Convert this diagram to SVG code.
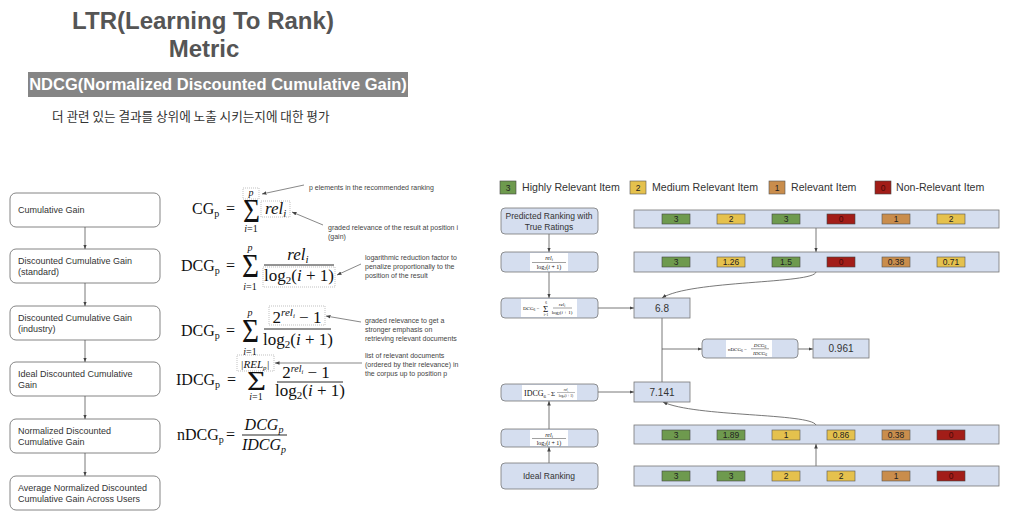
<svg xmlns="http://www.w3.org/2000/svg" width="1024" height="530" viewBox="0 0 1024 530">
<defs>
<marker id="ah" viewBox="0 0 10 10" refX="10" refY="5" markerWidth="4.5" markerHeight="4.5" markerUnits="userSpaceOnUse" orient="auto"><path d="M0,1 L10,5 L0,9 z" fill="#444"/></marker>
<style>
.sans{font-family:"Liberation Sans",Arial,sans-serif}
.lbox{fill:#fff;stroke:#666;stroke-width:0.8}
.lbl{font-family:"Liberation Sans",Arial,sans-serif;font-size:9px;fill:#333}
.m{font-family:"Liberation Serif","DejaVu Serif",serif;fill:#111}
.it{font-style:italic}
.dot{fill:none;stroke:#999;stroke-width:0.6;stroke-dasharray:1 1}
.ann{font-family:"Liberation Sans",Arial,sans-serif;font-size:7px;fill:#444}
.aline{stroke:#555;stroke-width:0.7;fill:none}
.bb{fill:#d5deef;stroke:#777;stroke-width:0.8}
.btxt{font-family:"Liberation Sans",Arial,sans-serif;font-size:8.5px;fill:#333;text-anchor:middle}
.num{font-family:"Liberation Sans",Arial,sans-serif;font-size:10px;fill:#333;text-anchor:middle}
.g{fill:#6e9a4e;stroke:#444;stroke-width:0.6}
.y{fill:#e5c14d;stroke:#555;stroke-width:0.6}
.t{fill:#c98d4c;stroke:#555;stroke-width:0.6}
.r{fill:#a21d18;stroke:#444;stroke-width:0.6}
.tt{font-family:"Liberation Sans",Arial,sans-serif;font-size:8.5px;fill:#222;text-anchor:middle}
.tr{fill:#4a0a08}
.leg{font-family:"Liberation Sans",Arial,sans-serif;font-size:10.6px;fill:#333}
.conn{stroke:#555;stroke-width:0.8;fill:none}
.wf{fill:#fff}
</style>
</defs>
<rect width="1024" height="530" fill="#fff"/>

<g id="title">
<text class="sans" x="203" y="29" font-size="24" font-weight="bold" fill="#555" text-anchor="middle">LTR(Learning  To Rank)</text>
<text class="sans" x="204" y="57" font-size="24" font-weight="bold" fill="#555" text-anchor="middle">Metric</text>
<rect x="28" y="72" width="380" height="25" fill="#858585"/>
<text class="sans" x="218" y="90" font-size="16.5" font-weight="bold" fill="#fff" text-anchor="middle">NDCG(Normalized Discounted Cumulative Gain)</text>
<text x="52" y="121" font-family="'Noto Sans CJK KR',sans-serif" font-size="12.6" fill="#333">더 관련 있는 결과를 상위에 노출 시키는지에 대한 평가</text>
</g>

<g id="left-flow">
<g id="n-cg"><rect class="lbox" x="10" y="193" width="150" height="34" rx="6"/><text class="lbl" x="18" y="213">Cumulative Gain</text></g>
<g id="n-dcg-std"><rect class="lbox" x="10" y="249" width="150" height="34" rx="6"/><text class="lbl" x="18" y="263.5">Discounted Cumulative Gain</text><text class="lbl" x="18" y="275">(standard)</text></g>
<g id="n-dcg-ind"><rect class="lbox" x="10" y="306" width="150" height="34" rx="6"/><text class="lbl" x="18" y="320.5">Discounted Cumulative Gain</text><text class="lbl" x="18" y="332">(industry)</text></g>
<g id="n-idcg"><rect class="lbox" x="10" y="362" width="150" height="34" rx="6"/><text class="lbl" x="18" y="376.5">Ideal Discounted Cumulative</text><text class="lbl" x="18" y="388">Gain</text></g>
<g id="n-ndcg"><rect class="lbox" x="10" y="419" width="150" height="34" rx="6"/><text class="lbl" x="18" y="433.5">Normalized Discounted</text><text class="lbl" x="18" y="445">Cumulative Gain</text></g>
<g id="n-avg"><rect class="lbox" x="10" y="476" width="150" height="34" rx="6"/><text class="lbl" x="18" y="490.5">Average Normalized Discounted</text><text class="lbl" x="18" y="502">Cumulative Gain Across Users</text></g>
</g>

<g id="formulas">
<text class="m" x="192" y="214" font-size="16">CG<tspan font-size="10" dy="3">p</tspan></text>
<text class="m" x="226" y="214" font-size="16">=</text>
<text class="m" x="243" y="222" font-size="34" textLength="17" lengthAdjust="spacingAndGlyphs">Σ</text>
<text class="m it" x="251" y="196" font-size="10" text-anchor="middle">p</text>
<text class="m" x="251" y="232" font-size="10" text-anchor="middle"><tspan class="it">i</tspan>=1</text>
<text class="m it" x="265" y="214" font-size="17">rel<tspan font-size="11" dy="3">i</tspan></text>
<rect class="dot" x="243" y="188" width="16" height="11"/>
<rect class="dot" x="261" y="201" width="29" height="16"/>
<text class="m" x="181" y="271" font-size="16">DCG<tspan font-size="10" dy="3">p</tspan></text>
<text class="m" x="226" y="271" font-size="16">=</text>
<text class="m" x="242" y="277" font-size="34" textLength="17" lengthAdjust="spacingAndGlyphs">Σ</text>
<text class="m it" x="250" y="251" font-size="10" text-anchor="middle">p</text>
<text class="m" x="250" y="290" font-size="10" text-anchor="middle"><tspan class="it">i</tspan>=1</text>
<text class="m it" x="298" y="260" font-size="17" text-anchor="middle">rel<tspan font-size="11" dy="3">i</tspan></text>
<line x1="264" y1="265" x2="334" y2="265" stroke="#111" stroke-width="0.9"/>
<text class="m" x="299" y="281" font-size="17" text-anchor="middle">log<tspan font-size="11" dy="3">2</tspan><tspan dy="-3">(</tspan><tspan class="it">i</tspan> + 1)</text>
<rect class="dot" x="263" y="267" width="72" height="20"/>
<text class="m" x="181" y="336" font-size="16">DCG<tspan font-size="10" dy="3">p</tspan></text>
<text class="m" x="226" y="336" font-size="16">=</text>
<text class="m" x="242" y="342" font-size="34" textLength="17" lengthAdjust="spacingAndGlyphs">Σ</text>
<text class="m it" x="250" y="316" font-size="10" text-anchor="middle">p</text>
<text class="m" x="250" y="355" font-size="10" text-anchor="middle"><tspan class="it">i</tspan>=1</text>
<text class="m" x="297" y="323" font-size="17" text-anchor="middle">2<tspan class="it" font-size="11" dy="-7">rel</tspan><tspan class="it" font-size="7" dy="2">i</tspan><tspan dy="5"> − 1</tspan></text>
<line x1="264" y1="329" x2="331" y2="329" stroke="#111" stroke-width="0.9"/>
<text class="m" x="298" y="345" font-size="17" text-anchor="middle">log<tspan font-size="11" dy="3">2</tspan><tspan dy="-3">(</tspan><tspan class="it">i</tspan> + 1)</text>
<rect class="dot" x="269" y="306" width="56" height="19"/>
<text class="m" x="176" y="385" font-size="16">IDCG<tspan font-size="10" dy="3">p</tspan></text>
<text class="m" x="227" y="385" font-size="16">=</text>
<text class="m" x="247" y="390" font-size="28" textLength="19" lengthAdjust="spacingAndGlyphs">Σ</text>
<text class="m it" x="255" y="367.5" font-size="11" text-anchor="middle">|REL<tspan font-size="7" dy="2">p</tspan><tspan dy="-2">|</tspan></text>
<text class="m" x="256" y="400" font-size="10" text-anchor="middle"><tspan class="it">i</tspan>=1</text>
<rect class="dot" x="237" y="355" width="37" height="16"/>
<text class="m" x="306" y="378" font-size="17" text-anchor="middle">2<tspan class="it" font-size="10" dy="-6">rel</tspan><tspan class="it" font-size="6.5" dy="1.5">i</tspan><tspan dy="4.5"> − 1</tspan></text>
<line x1="277" y1="382" x2="343" y2="382" stroke="#111" stroke-width="0.9"/>
<text class="m" x="310" y="396" font-size="17" text-anchor="middle">log<tspan font-size="11" dy="3">2</tspan><tspan dy="-3">(</tspan><tspan class="it">i</tspan> + 1)</text>
<text class="m" x="177" y="440" font-size="16">nDCG<tspan font-size="10" dy="3">p</tspan></text>
<text class="m" x="226" y="440" font-size="16">=</text>
<text class="m it" x="264" y="430" font-size="16" text-anchor="middle">DCG<tspan font-size="10" dy="3">p</tspan></text>
<line x1="242" y1="435" x2="287" y2="435" stroke="#111" stroke-width="0.9"/>
<text class="m it" x="264" y="450" font-size="16" text-anchor="middle">IDCG<tspan font-size="10" dy="3">p</tspan></text>
</g>

<g id="annotations">
<text class="ann" x="309" y="189.5">p elements in the recommended ranking</text>
<line class="aline" x1="304" y1="185" x2="262" y2="194" marker-end="url(#ah)"/>
<text class="ann" x="328" y="230">graded relevance of the result at position i</text>
<text class="ann" x="328" y="239">(gain)</text>
<line class="aline" x1="323" y1="225" x2="292" y2="212" marker-end="url(#ah)"/>
<text class="ann" x="365" y="259.5">logarithmic reduction factor to</text>
<text class="ann" x="365" y="268.5">penalize proportionally to the</text>
<text class="ann" x="365" y="277.5">position of the result</text>
<line class="aline" x1="361" y1="264" x2="337" y2="275" marker-end="url(#ah)"/>
<text class="ann" x="365" y="322.5">graded relevance to get a</text>
<text class="ann" x="365" y="331.5">stronger emphasis on</text>
<text class="ann" x="365" y="340.5">retrieving relevant documents</text>
<line class="aline" x1="361" y1="322" x2="326" y2="316" marker-end="url(#ah)"/>
<text class="ann" x="365" y="357.5">list of relevant documents</text>
<text class="ann" x="365" y="366.5">(ordered by their relevance) in</text>
<text class="ann" x="365" y="375.5">the corpus up to position p</text>
<line class="aline" x1="362" y1="363" x2="275" y2="363" marker-end="url(#ah)"/>
</g>

<g id="legend">
<rect class="g" x="500" y="181" width="16" height="13"/><text class="tt" x="508" y="191">3</text><text class="leg" x="522" y="191">Highly Relevant Item</text>
<rect class="y" x="630" y="181" width="16" height="13"/><text class="tt" x="638" y="191">2</text><text class="leg" x="652" y="191">Medium Relevant Item</text>
<rect class="t" x="769" y="181" width="16" height="13"/><text class="tt" x="777" y="191">1</text><text class="leg" x="791" y="191">Relevant Item</text>
<rect class="r" x="875" y="181" width="16" height="13"/><text class="tt tr" x="883" y="191">0</text><text class="leg" x="896" y="191">Non-Relevant Item</text>
</g>

<g id="connectors">
<line class="conn" x1="85" y1="227" x2="85" y2="249" marker-end="url(#ah)"/>
<line class="conn" x1="85" y1="283" x2="85" y2="306" marker-end="url(#ah)"/>
<line class="conn" x1="85" y1="340" x2="85" y2="362" marker-end="url(#ah)"/>
<line class="conn" x1="85" y1="396" x2="85" y2="419" marker-end="url(#ah)"/>
<line class="conn" x1="85" y1="453" x2="85" y2="476" marker-end="url(#ah)"/>
<line class="conn" x1="549" y1="234" x2="549" y2="252" marker-end="url(#ah)"/>
<line class="conn" x1="549" y1="272" x2="549" y2="298" marker-end="url(#ah)"/>
<line class="conn" x1="598" y1="308" x2="634" y2="308" marker-end="url(#ah)"/>
<line class="conn" x1="816" y1="228" x2="816" y2="252" marker-end="url(#ah)"/>
<path class="conn" d="M816,272 C814,284 690,280 662,298" marker-end="url(#ah)"/>
<line class="conn" x1="662" y1="318" x2="662" y2="382"/>
<line class="conn" x1="662" y1="349" x2="702" y2="349" marker-end="url(#ah)"/>
<line class="conn" x1="798" y1="349" x2="813" y2="349" marker-end="url(#ah)"/>
<line class="conn" x1="598" y1="392" x2="634" y2="392" marker-end="url(#ah)"/>
<line class="conn" x1="549" y1="429" x2="549" y2="401" marker-end="url(#ah)"/>
<line class="conn" x1="549" y1="463" x2="549" y2="447" marker-end="url(#ah)"/>
<line class="conn" x1="816" y1="466" x2="816" y2="444" marker-end="url(#ah)"/>
<path class="conn" d="M816,425 C810,413 695,417 663,402" marker-end="url(#ah)"/>
</g>

<g id="n-predicted"><rect class="bb" x="501" y="208" width="97" height="26" rx="4"/><text class="btxt" x="549" y="218.5">Predicted Ranking with</text><text class="btxt" x="549" y="229.5">True Ratings</text></g>

<g id="n-gain-pred"><rect class="bb" x="501" y="252" width="97" height="20" rx="4"/>
<rect class="wf" x="530" y="253" width="38" height="18"/>
<text class="m it" x="549" y="260" font-size="6" text-anchor="middle">rel<tspan font-size="4" dy="1">i</tspan></text>
<line x1="532" y1="262.5" x2="566" y2="262.5" stroke="#111" stroke-width="0.4"/>
<text class="m" x="549" y="269" font-size="6" text-anchor="middle">log<tspan font-size="4" dy="1">2</tspan><tspan dy="-1">(</tspan><tspan class="it">i</tspan> + 1)</text>
</g>

<g id="n-dcg-formula"><rect class="bb" x="501" y="298" width="97" height="20" rx="4"/>
<rect class="wf" x="521" y="299" width="56" height="18"/>
<text class="m" x="523" y="310" font-size="5">DCG<tspan font-size="3.5" dy="1">6</tspan><tspan dy="-1"> =</tspan></text>
<text class="m" x="543" y="311.5" font-size="9">Σ</text>
<text class="m" x="546" y="304" font-size="3.5" text-anchor="middle">6</text>
<text class="m" x="546" y="315.5" font-size="3.5" text-anchor="middle">i=1</text>
<text class="m it" x="562" y="306" font-size="5" text-anchor="middle">rel<tspan font-size="3.5" dy="1">i</tspan></text>
<line x1="553" y1="308" x2="572" y2="308" stroke="#111" stroke-width="0.4"/>
<text class="m" x="562" y="314" font-size="5" text-anchor="middle">log<tspan font-size="3.5" dy="1">2</tspan><tspan dy="-1">(</tspan><tspan class="it">i</tspan> + 1)</text>
</g>

<g id="n-dcg-value"><rect class="bb" x="634" y="298" width="56" height="20"/><text class="num" x="662" y="311.5">6.8</text></g>

<g id="n-ndcg-formula"><rect class="bb" x="702" y="339" width="96" height="19" rx="4"/>
<rect class="wf" x="726" y="340" width="46" height="17"/>
<text class="m" x="728" y="351" font-size="5">nDCG<tspan font-size="3.5" dy="1">6</tspan><tspan dy="-1"> =</tspan></text>
<text class="m it" x="760" y="347" font-size="5" text-anchor="middle">DCG<tspan font-size="3.5" dy="1">6</tspan></text>
<line x1="751" y1="348.8" x2="769" y2="348.8" stroke="#111" stroke-width="0.4"/>
<text class="m it" x="760" y="355" font-size="5" text-anchor="middle">IDCG<tspan font-size="3.5" dy="1">6</tspan></text>
</g>

<g id="n-ndcg-value"><rect class="bb" x="813" y="339" width="56" height="19"/><text class="num" x="841" y="352">0.961</text></g>

<g id="n-idcg-formula"><rect class="bb" x="501" y="384" width="97" height="17" rx="4"/>
<rect class="wf" x="522" y="385" width="55" height="15"/>
<text class="m" x="524" y="396" font-size="8">IDCG<tspan font-size="5" dy="1.5">6</tspan><tspan font-size="5" dy="-1.5"> =</tspan></text>
<text class="m" x="551" y="396" font-size="7">Σ</text>
<text class="m it" x="566" y="391" font-size="3.5" text-anchor="middle">rel<tspan font-size="2.5" dy="0.5">i</tspan></text>
<line x1="557" y1="392.5" x2="575" y2="392.5" stroke="#111" stroke-width="0.3"/>
<text class="m" x="566" y="396.5" font-size="3.5" text-anchor="middle">log<tspan font-size="2.5" dy="0.5">2</tspan><tspan dy="-0.5">(</tspan><tspan class="it">i</tspan> + 1)</text>
</g>

<g id="n-idcg-value"><rect class="bb" x="634" y="382" width="56" height="20"/><text class="num" x="662" y="395.5">7.141</text></g>

<g id="n-gain-ideal"><rect class="bb" x="501" y="429" width="97" height="18" rx="4"/>
<rect class="wf" x="530" y="430" width="38" height="16"/>
<text class="m it" x="549" y="436.5" font-size="6" text-anchor="middle">rel<tspan font-size="4" dy="1">i</tspan></text>
<line x1="532" y1="438.5" x2="566" y2="438.5" stroke="#111" stroke-width="0.4"/>
<text class="m" x="549" y="445" font-size="6" text-anchor="middle">log<tspan font-size="4" dy="1">2</tspan><tspan dy="-1">(</tspan><tspan class="it">i</tspan> + 1)</text>
</g>

<g id="n-ideal"><rect class="bb" x="501" y="463" width="97" height="26" rx="4"/><text class="btxt" x="549" y="479">Ideal Ranking</text></g>

<g id="row-pred">
<rect class="bb" x="634" y="210" width="365" height="18"/>
<rect class="g" x="662" y="214" width="28" height="10"/><text class="tt" x="676" y="222">3</text>
<rect class="y" x="717" y="214" width="28" height="10"/><text class="tt" x="731" y="222">2</text>
<rect class="g" x="772" y="214" width="28" height="10"/><text class="tt" x="786" y="222">3</text>
<rect class="r" x="827" y="214" width="28" height="10"/><text class="tt tr" x="841" y="222">0</text>
<rect class="t" x="882" y="214" width="28" height="10"/><text class="tt" x="896" y="222">1</text>
<rect class="y" x="937" y="214" width="28" height="10"/><text class="tt" x="951" y="222">2</text>
</g>

<g id="row-pred-gain">
<rect class="bb" x="634" y="252" width="365" height="20"/>
<rect class="g" x="662" y="257" width="28" height="10"/><text class="tt" x="676" y="265">3</text>
<rect class="y" x="717" y="257" width="28" height="10"/><text class="tt" x="731" y="265">1.26</text>
<rect class="g" x="772" y="257" width="28" height="10"/><text class="tt" x="786" y="265">1.5</text>
<rect class="r" x="827" y="257" width="28" height="10"/><text class="tt tr" x="841" y="265">0</text>
<rect class="t" x="882" y="257" width="28" height="10"/><text class="tt" x="896" y="265">0.38</text>
<rect class="y" x="937" y="257" width="28" height="10"/><text class="tt" x="951" y="265">0.71</text>
</g>

<g id="row-ideal-gain">
<rect class="bb" x="634" y="425" width="365" height="19"/>
<rect class="g" x="662" y="430" width="28" height="10"/><text class="tt" x="676" y="438">3</text>
<rect class="g" x="717" y="430" width="28" height="10"/><text class="tt" x="731" y="438">1.89</text>
<rect class="y" x="772" y="430" width="28" height="10"/><text class="tt" x="786" y="438">1</text>
<rect class="y" x="827" y="430" width="28" height="10"/><text class="tt" x="841" y="438">0.86</text>
<rect class="t" x="882" y="430" width="28" height="10"/><text class="tt" x="896" y="438">0.38</text>
<rect class="r" x="937" y="430" width="28" height="10"/><text class="tt tr" x="951" y="438">0</text>
</g>

<g id="row-ideal">
<rect class="bb" x="634" y="466" width="365" height="20"/>
<rect class="g" x="662" y="471" width="28" height="10"/><text class="tt" x="676" y="479">3</text>
<rect class="g" x="717" y="471" width="28" height="10"/><text class="tt" x="731" y="479">3</text>
<rect class="y" x="772" y="471" width="28" height="10"/><text class="tt" x="786" y="479">2</text>
<rect class="y" x="827" y="471" width="28" height="10"/><text class="tt" x="841" y="479">2</text>
<rect class="t" x="882" y="471" width="28" height="10"/><text class="tt" x="896" y="479">1</text>
<rect class="r" x="937" y="471" width="28" height="10"/><text class="tt tr" x="951" y="479">0</text>
</g>
</svg>
